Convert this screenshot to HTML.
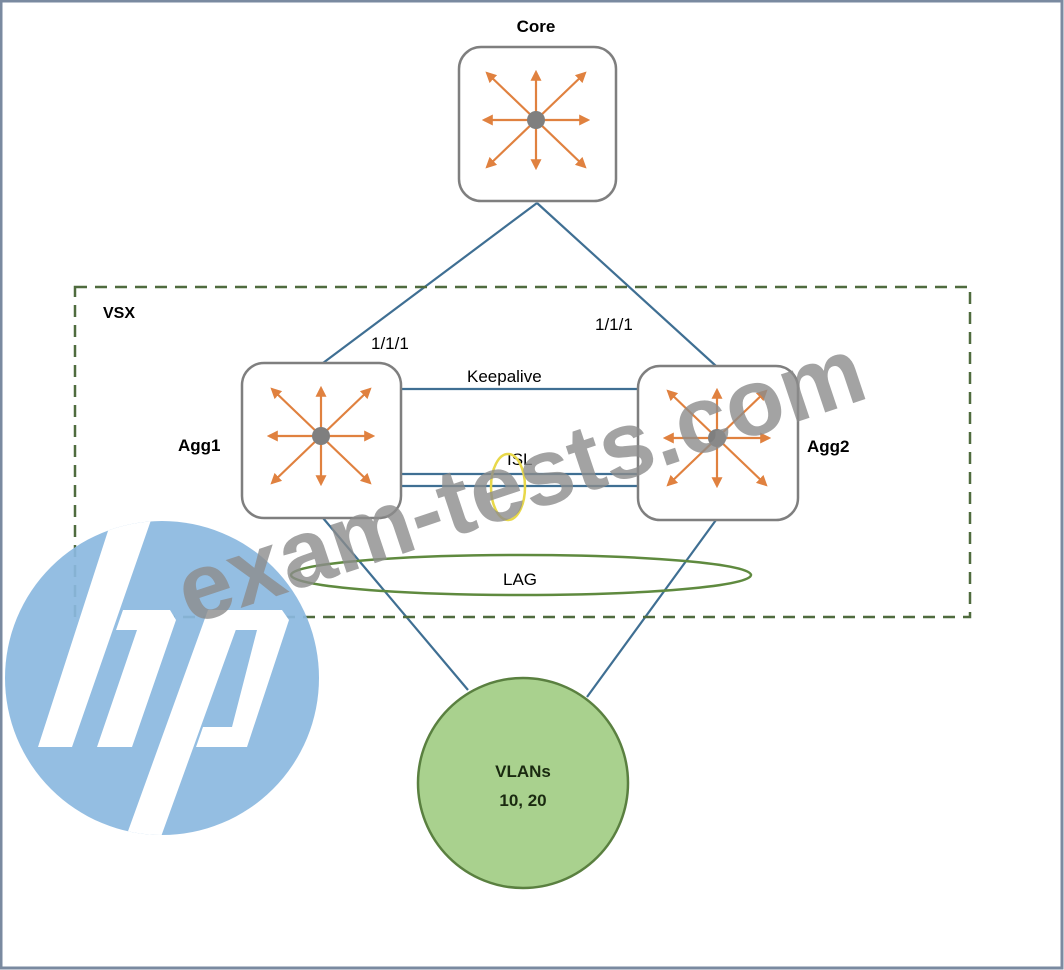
<!DOCTYPE html>
<html><head><meta charset="utf-8"><style>
html,body{margin:0;padding:0;background:#fff;}
svg{display:block}
text{font-family:"Liberation Sans",sans-serif}
</style></head><body>
<svg width="1064" height="970" viewBox="0 0 1064 970" xmlns="http://www.w3.org/2000/svg">
<defs>
<marker id="ah" viewBox="0 0 10 10" refX="8" refY="5" markerWidth="5" markerHeight="5" orient="auto"><path d="M0,0 L10,5 L0,10 z" fill="#e0813f"/></marker>
<g id="star">
<g stroke="#e0813f" stroke-width="2.2" marker-end="url(#ah)">
<line x1="0" y1="0" x2="0" y2="-48"/><line x1="0" y1="0" x2="0" y2="48"/>
<line x1="0" y1="0" x2="-52" y2="0"/><line x1="0" y1="0" x2="52" y2="0"/>
<line x1="0" y1="0" x2="-49" y2="-47"/><line x1="0" y1="0" x2="49" y2="-47"/>
<line x1="0" y1="0" x2="-49" y2="47"/><line x1="0" y1="0" x2="49" y2="47"/>
</g>
<circle r="9" fill="#7f7f7f"/>
</g>
<clipPath id="hpc"><circle cx="162" cy="678" r="157"/></clipPath>
</defs>
<rect x="0" y="0" width="1064" height="970" fill="#fff"/>
<rect x="1" y="1" width="1061" height="967" fill="none" stroke="#7a8aa0" stroke-width="3"/>

<g stroke="#3f6f93" stroke-width="2.2" fill="none">
<line x1="537" y1="203" x2="323" y2="363"/>
<line x1="537" y1="203" x2="716" y2="366"/>
<line x1="401" y1="389" x2="638" y2="389"/>
<line x1="401" y1="474" x2="638" y2="474"/>
<line x1="401" y1="486" x2="638" y2="486"/>
<line x1="323" y1="518" x2="468" y2="690"/>
<line x1="716" y1="520" x2="587" y2="697"/>
</g>

<rect x="75" y="287" width="895" height="330" fill="none" stroke="#4f6b3e" stroke-width="2.5" stroke-dasharray="12,8"/>
<text x="103" y="318" font-size="16" font-weight="bold">VSX</text>

<text x="536" y="32" font-size="17" font-weight="bold" text-anchor="middle">Core</text>
<rect x="459" y="47" width="157" height="154" rx="22" fill="#fff" stroke="#7f7f7f" stroke-width="2.5"/>
<use href="#star" x="536" y="120"/>

<rect x="242" y="363" width="159" height="155" rx="22" fill="#fff" stroke="#7f7f7f" stroke-width="2.5"/>
<use href="#star" x="321" y="436"/>
<text x="178" y="451" font-size="17" font-weight="bold">Agg1</text>

<rect x="638" y="366" width="160" height="154" rx="22" fill="#fff" stroke="#7f7f7f" stroke-width="2.5"/>
<use href="#star" x="717" y="438"/>
<text x="807" y="452" font-size="17" font-weight="bold">Agg2</text>

<text x="371" y="349" font-size="17">1/1/1</text>
<text x="595" y="330" font-size="17">1/1/1</text>
<text x="467" y="382" font-size="17">Keepalive</text>
<text x="507" y="465" font-size="17">ISL</text>
<ellipse cx="508" cy="487" rx="17" ry="33" fill="none" stroke="#e8d84a" stroke-width="2.5"/>

<ellipse cx="521" cy="575" rx="230" ry="20" fill="none" stroke="#5f8a3f" stroke-width="2.5"/>
<text x="503" y="585" font-size="17">LAG</text>

<circle cx="523" cy="783" r="105" fill="#a9d18e" stroke="#5a8040" stroke-width="2.5"/>
<text x="523" y="777" font-size="17" font-weight="bold" text-anchor="middle" fill="#1a2a10">VLANs</text>
<text x="523" y="806" font-size="17" font-weight="bold" text-anchor="middle" fill="#1a2a10">10, 20</text>

<circle cx="162" cy="678" r="157" fill="#8bb8e0" fill-opacity="0.92"/>
<g clip-path="url(#hpc)" fill="#fff">
<polygon points="118,500 158,500 72,747 38,747"/>
<polygon points="123,610 170,610 176,620 132,747 97,747 137,630 116,630"/>
<polygon points="208,610 243,610 158,845 123,845"/>
<polygon points="208,610 282,610 289,620 247,747 196,747 203,727 232,727 257,630 227,630"/>
</g>

<text x="0" y="0" font-size="95" font-weight="bold" fill="#8c8c8c" fill-opacity="0.8" transform="translate(190,625) rotate(-18.5)">exam-tests.com</text>
</svg>
</body></html>
